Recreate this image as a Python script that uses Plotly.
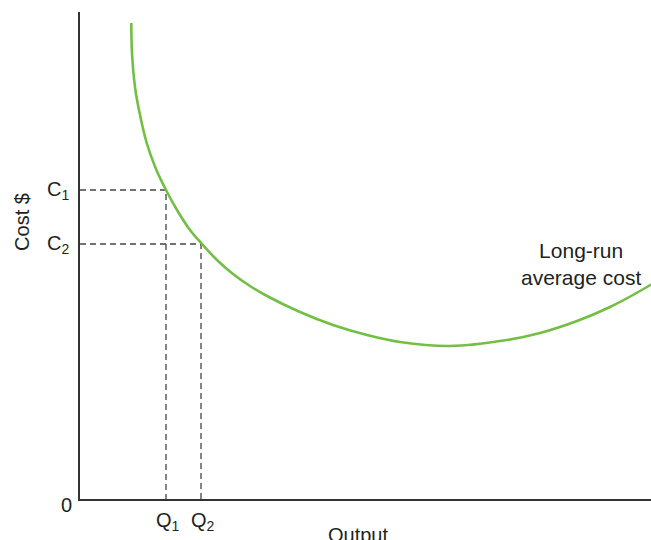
import plotly.graph_objects as go

# Long-run average cost curve (output, cost) in chart units
output_vals = [51.3, 52, 55, 59, 66.7, 76, 86, 97, 110, 122, 137, 153, 170, 187, 220, 253, 287, 320, 370, 427, 460, 497, 530, 567, 571]
cost_vals = [476, 446, 412, 389, 356, 330, 309, 289, 269, 255, 239, 225, 213, 203, 187, 174, 164, 157, 153, 159, 166, 178, 192, 212, 214.5]

q_points = [86, 121]          # Q1, Q2
c_points = [309, 255]         # C1, C2
q_labels = ["Q<sub>1</sub>", "Q<sub>2</sub>"]
c_labels = ["C<sub>1</sub>", "C<sub>2</sub>"]

X_MAX, Y_MAX = 571, 487
FONT = "Liberation Sans, Arial, Helvetica, sans-serif"
TXT = "#231f20"
FS = 20

fig = go.Figure()

# dashed guides
for q, c in zip(q_points, c_points):
    fig.add_trace(go.Scatter(x=[0, q, q], y=[c, c, 0], mode="lines",
                             line=dict(color="#444444", width=1.3, dash="6px,4px"),
                             hoverinfo="skip", showlegend=False))

fig.add_trace(go.Scatter(x=output_vals, y=cost_vals, mode="lines",
                         line=dict(color="#72bf44", width=2.6, shape="spline", smoothing=1.0),
                         hoverinfo="skip", showlegend=False))

annotations = []
for q, lab in zip(q_points, q_labels):
    annotations.append(dict(x=q, y=0, xref="x", yref="y", text=lab, showarrow=False,
                            xanchor="center", yanchor="top", xshift=2, yshift=-8,
                            font=dict(size=FS, color=TXT, family=FONT)))
for c, lab in zip(c_points, c_labels):
    annotations.append(dict(x=0, y=c, xref="x", yref="y", text=lab, showarrow=False,
                            xanchor="right", yanchor="middle", xshift=-9,
                            font=dict(size=FS, color=TXT, family=FONT)))
annotations += [
    dict(x=0, y=0, xref="x", yref="y", text="0", showarrow=False, xanchor="right",
         yanchor="middle", xshift=-6, yshift=-6, font=dict(size=FS, color=TXT, family=FONT)),
    dict(x=0.487, y=-0.047, xref="paper", yref="paper", text="Output", showarrow=False,
         xanchor="center", yanchor="top", font=dict(size=FS, color=TXT, family=FONT)),
    dict(x=-0.1016, y=0.569, xref="paper", yref="paper", text="Cost $", showarrow=False,
         xanchor="center", yanchor="middle", textangle=-90,
         font=dict(size=FS, color=TXT, family=FONT)),
    dict(x=0.877, y=0.483, xref="paper", yref="paper", text="Long-run<br>average cost",
         showarrow=False, align="center", xanchor="center", yanchor="middle",
         font=dict(size=21, color=TXT, family=FONT)),
]

fig.update_layout(
    width=651, height=540,
    margin=dict(l=80, r=0, t=12, b=41),
    paper_bgcolor="white", plot_bgcolor="white",
    annotations=annotations,
    hovermode=False,
    xaxis=dict(range=[0, X_MAX], showgrid=False, zeroline=False, showticklabels=False,
               ticks="", showline=True, linecolor="#333333", linewidth=1.5, fixedrange=True),
    yaxis=dict(range=[0, Y_MAX], showgrid=False, zeroline=False, showticklabels=False,
               ticks="", showline=True, linecolor="#333333", linewidth=1.5, fixedrange=True),
)

fig.write_html("out.html", config={"displayModeBar": False},
               post_script="document.body.style.margin='0';document.body.style.overflow='hidden';")
